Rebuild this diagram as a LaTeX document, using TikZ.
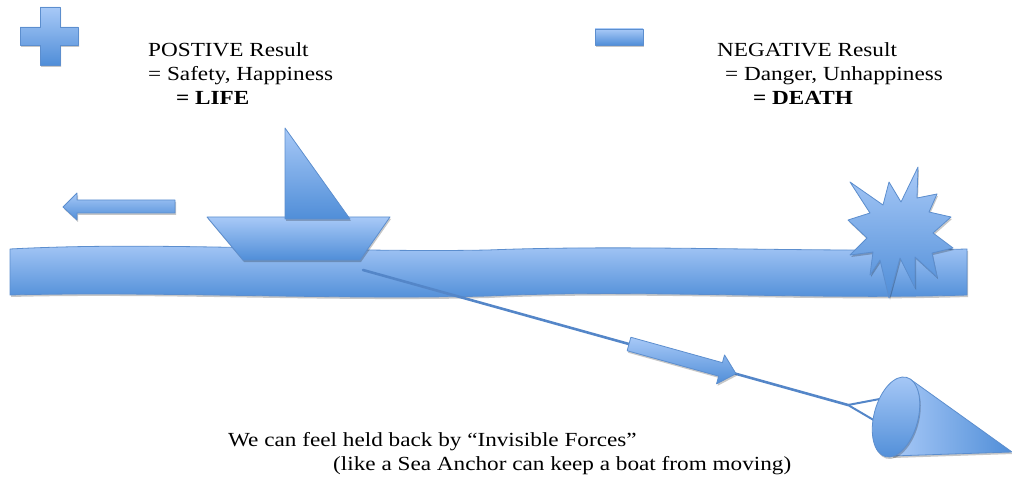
\documentclass[tikz,border=0pt]{standalone}
\usepackage{fontspec}
\setmainfont{Liberation Serif}[FakeStretch=1.16]
\usetikzlibrary{shadows}
\definecolor{lightblue}{RGB}{168,201,247}
\definecolor{darkblue}{RGB}{80,142,216}
\definecolor{edgeblue}{RGB}{92,142,206}
\definecolor{ropeblue}{RGB}{84,134,200}
\tikzset{
  blueshape/.style={draw=edgeblue, line width=0.8pt, line join=round,
    top color=lightblue, bottom color=darkblue,
    drop shadow={shadow xshift=1pt, shadow yshift=-2pt, opacity=0.22, fill=black}},
  conebody/.style={blueshape, left color=lightblue, right color=darkblue},
  rope/.style={draw=ropeblue, line width=2.6pt, line cap=round},
  label/.style={anchor=base west, inner sep=0pt, font=\fontsize{20}{24}\selectfont},
  boldlabel/.style={label, font=\fontsize{20}{24}\selectfont\bfseries}
}
\begin{document}
\begin{tikzpicture}[x=1pt,y=-1pt]
\useasboundingbox (0,0) rectangle (1012,481);

% plus and minus symbols
\path[blueshape] (40,7) -- (60,7) -- (60,27) -- (78,27) -- (78,45) -- (60,45)
  -- (60,65) -- (40,65) -- (40,45) -- (20,45) -- (20,27) -- (40,27) -- cycle;
\path[blueshape] (595,29) rectangle (643,45);

% headings
\node[label] (pos1) at (148,57) {POSTIVE Result};
\node[label] (pos2) at (148,81) {= Safety, Happiness};
\node[boldlabel] (pos3) at (176,105) {= LIFE};
\node[label] (neg1) at (717,57) {NEGATIVE Result};
\node[label] (neg2) at (725,81) {= Danger, Unhappiness};
\node[boldlabel] (neg3) at (753,105) {= DEATH};

% direction arrow
\path[blueshape] (63,207) -- (77,193) -- (77,200) -- (175,200) -- (175,213)
  -- (77,213) -- (77,220) -- cycle;

% sea
\path[blueshape] (10,249) .. controls (160,241) and (330,253) .. (488,250)
  .. controls (640,244) and (810,253) .. (967,249)
  -- (967,295) .. controls (810,300) and (640,289) .. (488,296)
  .. controls (330,300) and (160,291) .. (10,295) -- cycle;

% boat
\path[blueshape] (207,217) -- (390,217) -- (360,260) -- (243,260) -- cycle;
\path[blueshape] (285,128) -- (350,219) -- (285,219) -- cycle;

% explosion
\path[blueshape] (850,182) -- (883,205) -- (889,182) -- (901,202) -- (918,167)
  -- (917,198) -- (937,194) -- (929,212) -- (951,217) -- (933,233) -- (953,248)
  -- (932,253) -- (937,277) -- (915,257) -- (915,288) -- (900,258) -- (889,298)
  -- (880,260) -- (870,275) -- (873,252) -- (850,255) -- (867,238) -- (848,220)
  -- (870,213) -- cycle;

% sea anchor rope
\coordinate (ropestart) at (363,270);
\coordinate (knot) at (848,405);
\coordinate (rimtop) at (885,398);
\coordinate (rimbot) at (877,422);
\draw[rope] (ropestart) -- (knot);
\draw[rope, line width=2pt] (knot) -- (rimtop);
\draw[rope, line width=2pt] (knot) -- (rimbot);

% pull arrow along the rope
\begin{scope}[shift={(629,344)}, rotate=-15.5]
  \path[blueshape] (0,-7) -- (95,-7) -- (95,-15) -- (111,0) -- (95,15)
    -- (95,7) -- (0,7) -- cycle;
\end{scope}

% sea anchor cone
\path[conebody] (910,379) -- (1012,452) -- (892,456) -- cycle;
\begin{scope}[shift={(896,417)}, rotate=-15]
  \path[blueshape] (0,0) ellipse (22 and 41);
\end{scope}

% caption
\node[label] (cap1) at (228,446) {We can feel held back by “Invisible Forces”};
\node[label] (cap2) at (333,470) {(like a Sea Anchor can keep a boat from moving)};
\end{tikzpicture}
\end{document}
